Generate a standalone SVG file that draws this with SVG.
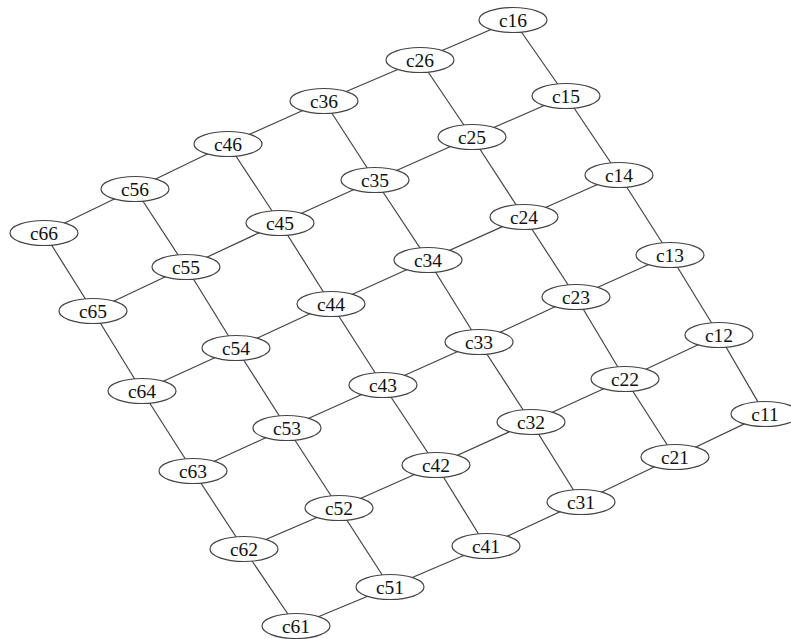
<svg xmlns="http://www.w3.org/2000/svg" width="791" height="639" viewBox="0 0 791 639">
<style>
.n ellipse{fill:#fff;stroke:#444;stroke-width:1.2}
.n text{font-family:"Liberation Serif","Times New Roman",serif;font-size:19.5px;fill:#111;text-anchor:middle;dominant-baseline:central}
#edges line{stroke:#444;stroke-width:1.2}
</style>
<rect width="791" height="639" fill="#fff"/>
<g id="edges">
<line x1="513" y1="20" x2="420" y2="60"/>
<line x1="420" y1="60" x2="324" y2="101"/>
<line x1="324" y1="101" x2="228" y2="144"/>
<line x1="228" y1="144" x2="135" y2="189"/>
<line x1="135" y1="189" x2="44" y2="233"/>
<line x1="566" y1="96" x2="472" y2="137"/>
<line x1="472" y1="137" x2="375" y2="180"/>
<line x1="375" y1="180" x2="280" y2="223"/>
<line x1="280" y1="223" x2="186" y2="267"/>
<line x1="186" y1="267" x2="93" y2="311"/>
<line x1="619" y1="175" x2="524" y2="217"/>
<line x1="524" y1="217" x2="428" y2="260"/>
<line x1="428" y1="260" x2="331" y2="304"/>
<line x1="331" y1="304" x2="236" y2="348"/>
<line x1="236" y1="348" x2="142" y2="391"/>
<line x1="670" y1="255" x2="576" y2="297"/>
<line x1="576" y1="297" x2="479" y2="342"/>
<line x1="479" y1="342" x2="383" y2="385"/>
<line x1="383" y1="385" x2="287" y2="428"/>
<line x1="287" y1="428" x2="193" y2="471"/>
<line x1="719" y1="335" x2="625" y2="379"/>
<line x1="625" y1="379" x2="531" y2="422"/>
<line x1="531" y1="422" x2="436" y2="465"/>
<line x1="436" y1="465" x2="339" y2="508"/>
<line x1="339" y1="508" x2="244" y2="549"/>
<line x1="765" y1="414" x2="675" y2="457"/>
<line x1="675" y1="457" x2="581" y2="502"/>
<line x1="581" y1="502" x2="486" y2="546"/>
<line x1="486" y1="546" x2="390" y2="587"/>
<line x1="390" y1="587" x2="296" y2="626"/>
<line x1="513" y1="20" x2="566" y2="96"/>
<line x1="566" y1="96" x2="619" y2="175"/>
<line x1="619" y1="175" x2="670" y2="255"/>
<line x1="670" y1="255" x2="719" y2="335"/>
<line x1="719" y1="335" x2="765" y2="414"/>
<line x1="420" y1="60" x2="472" y2="137"/>
<line x1="472" y1="137" x2="524" y2="217"/>
<line x1="524" y1="217" x2="576" y2="297"/>
<line x1="576" y1="297" x2="625" y2="379"/>
<line x1="625" y1="379" x2="675" y2="457"/>
<line x1="324" y1="101" x2="375" y2="180"/>
<line x1="375" y1="180" x2="428" y2="260"/>
<line x1="428" y1="260" x2="479" y2="342"/>
<line x1="479" y1="342" x2="531" y2="422"/>
<line x1="531" y1="422" x2="581" y2="502"/>
<line x1="228" y1="144" x2="280" y2="223"/>
<line x1="280" y1="223" x2="331" y2="304"/>
<line x1="331" y1="304" x2="383" y2="385"/>
<line x1="383" y1="385" x2="436" y2="465"/>
<line x1="436" y1="465" x2="486" y2="546"/>
<line x1="135" y1="189" x2="186" y2="267"/>
<line x1="186" y1="267" x2="236" y2="348"/>
<line x1="236" y1="348" x2="287" y2="428"/>
<line x1="287" y1="428" x2="339" y2="508"/>
<line x1="339" y1="508" x2="390" y2="587"/>
<line x1="44" y1="233" x2="93" y2="311"/>
<line x1="93" y1="311" x2="142" y2="391"/>
<line x1="142" y1="391" x2="193" y2="471"/>
<line x1="193" y1="471" x2="244" y2="549"/>
<line x1="244" y1="549" x2="296" y2="626"/>
</g>
<g id="c16" class="n"><ellipse cx="513" cy="20" rx="34" ry="12.5"/><text x="513" y="20">c16</text></g>
<g id="c26" class="n"><ellipse cx="420" cy="60" rx="34" ry="12.5"/><text x="420" y="60">c26</text></g>
<g id="c36" class="n"><ellipse cx="324" cy="101" rx="34" ry="12.5"/><text x="324" y="101">c36</text></g>
<g id="c46" class="n"><ellipse cx="228" cy="144" rx="34" ry="12.5"/><text x="228" y="144">c46</text></g>
<g id="c56" class="n"><ellipse cx="135" cy="189" rx="34" ry="12.5"/><text x="135" y="189">c56</text></g>
<g id="c66" class="n"><ellipse cx="44" cy="233" rx="34" ry="12.5"/><text x="44" y="233">c66</text></g>
<g id="c15" class="n"><ellipse cx="566" cy="96" rx="34" ry="12.5"/><text x="566" y="96">c15</text></g>
<g id="c25" class="n"><ellipse cx="472" cy="137" rx="34" ry="12.5"/><text x="472" y="137">c25</text></g>
<g id="c35" class="n"><ellipse cx="375" cy="180" rx="34" ry="12.5"/><text x="375" y="180">c35</text></g>
<g id="c45" class="n"><ellipse cx="280" cy="223" rx="34" ry="12.5"/><text x="280" y="223">c45</text></g>
<g id="c55" class="n"><ellipse cx="186" cy="267" rx="34" ry="12.5"/><text x="186" y="267">c55</text></g>
<g id="c65" class="n"><ellipse cx="93" cy="311" rx="34" ry="12.5"/><text x="93" y="311">c65</text></g>
<g id="c14" class="n"><ellipse cx="619" cy="175" rx="34" ry="12.5"/><text x="619" y="175">c14</text></g>
<g id="c24" class="n"><ellipse cx="524" cy="217" rx="34" ry="12.5"/><text x="524" y="217">c24</text></g>
<g id="c34" class="n"><ellipse cx="428" cy="260" rx="34" ry="12.5"/><text x="428" y="260">c34</text></g>
<g id="c44" class="n"><ellipse cx="331" cy="304" rx="34" ry="12.5"/><text x="331" y="304">c44</text></g>
<g id="c54" class="n"><ellipse cx="236" cy="348" rx="34" ry="12.5"/><text x="236" y="348">c54</text></g>
<g id="c64" class="n"><ellipse cx="142" cy="391" rx="34" ry="12.5"/><text x="142" y="391">c64</text></g>
<g id="c13" class="n"><ellipse cx="670" cy="255" rx="34" ry="12.5"/><text x="670" y="255">c13</text></g>
<g id="c23" class="n"><ellipse cx="576" cy="297" rx="34" ry="12.5"/><text x="576" y="297">c23</text></g>
<g id="c33" class="n"><ellipse cx="479" cy="342" rx="34" ry="12.5"/><text x="479" y="342">c33</text></g>
<g id="c43" class="n"><ellipse cx="383" cy="385" rx="34" ry="12.5"/><text x="383" y="385">c43</text></g>
<g id="c53" class="n"><ellipse cx="287" cy="428" rx="34" ry="12.5"/><text x="287" y="428">c53</text></g>
<g id="c63" class="n"><ellipse cx="193" cy="471" rx="34" ry="12.5"/><text x="193" y="471">c63</text></g>
<g id="c12" class="n"><ellipse cx="719" cy="335" rx="34" ry="12.5"/><text x="719" y="335">c12</text></g>
<g id="c22" class="n"><ellipse cx="625" cy="379" rx="34" ry="12.5"/><text x="625" y="379">c22</text></g>
<g id="c32" class="n"><ellipse cx="531" cy="422" rx="34" ry="12.5"/><text x="531" y="422">c32</text></g>
<g id="c42" class="n"><ellipse cx="436" cy="465" rx="34" ry="12.5"/><text x="436" y="465">c42</text></g>
<g id="c52" class="n"><ellipse cx="339" cy="508" rx="34" ry="12.5"/><text x="339" y="508">c52</text></g>
<g id="c62" class="n"><ellipse cx="244" cy="549" rx="34" ry="12.5"/><text x="244" y="549">c62</text></g>
<g id="c11" class="n"><ellipse cx="765" cy="414" rx="34" ry="12.5"/><text x="765" y="414">c11</text></g>
<g id="c21" class="n"><ellipse cx="675" cy="457" rx="34" ry="12.5"/><text x="675" y="457">c21</text></g>
<g id="c31" class="n"><ellipse cx="581" cy="502" rx="34" ry="12.5"/><text x="581" y="502">c31</text></g>
<g id="c41" class="n"><ellipse cx="486" cy="546" rx="34" ry="12.5"/><text x="486" y="546">c41</text></g>
<g id="c51" class="n"><ellipse cx="390" cy="587" rx="34" ry="12.5"/><text x="390" y="587">c51</text></g>
<g id="c61" class="n"><ellipse cx="296" cy="626" rx="34" ry="12.5"/><text x="296" y="626">c61</text></g>
</svg>
